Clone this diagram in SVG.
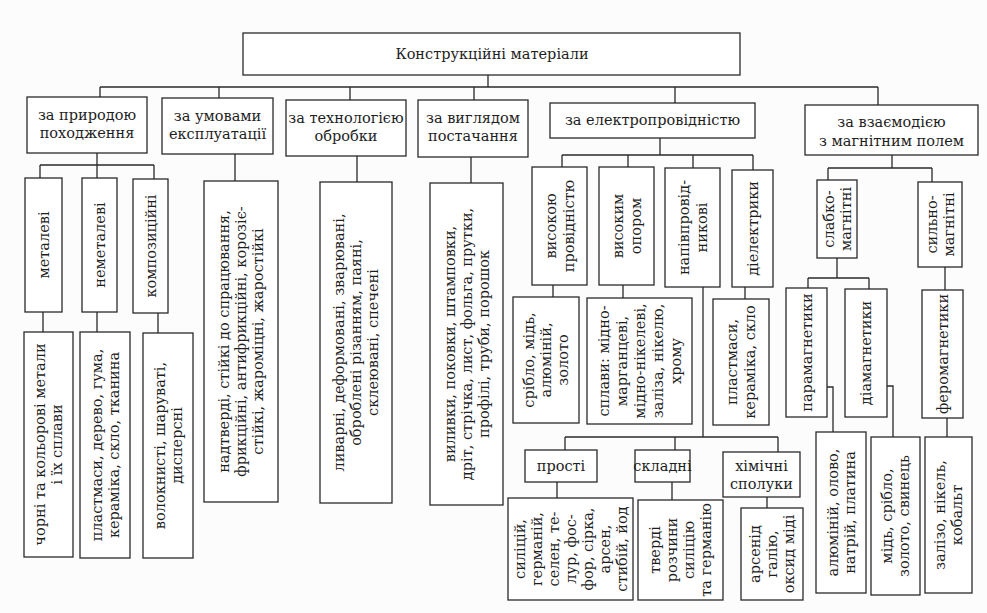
<svg xmlns="http://www.w3.org/2000/svg" width="987" height="613" viewBox="0 0 987 613">
<style>
.b{fill:#fff;stroke:#2a2a2a;stroke-width:1.3}
.c{fill:none;stroke:#2a2a2a;stroke-width:1.3}
.t{font-family:"DejaVu Serif","Liberation Serif",serif;font-size:14.5px;fill:#1e1e1e;text-anchor:middle}
</style>
<rect width="987" height="613" fill="#fcfcfc"/>
<g id="connectors">
<path class="c" d="M488 75V87M100 87H878M100 87V97M219 87V98M350 87V100M474 87V100M675 87V103M878 87V105"/>
<path class="c" d="M97 153V178M40 165H154M40 165V178M154 165V179M43 312V332M97 312V332M158 313V333"/>
<path class="c" d="M235 154V181M357 156V182M471 157V183"/>
<path class="c" d="M660 138V155M562 155H753M562 155V167M628 155V167M693 155V168M753 155V170M553 285V297M623 285V298M745 287V299"/>
<path class="c" d="M703 287V437M565 437H778M565 437V450M675 437V450M778 437V452M557 482V498M672 482V500M767 497V508"/>
<path class="c" d="M892 155V168M828 168H932M828 168V180M932 168V182M837 258V278M808 278H869M808 278V288M869 278V289M945 267V290M827 387H833V432M887 386H893V437M947 418V437"/>
</g>
<g id="root"><rect class="b" x="243" y="33" width="497" height="42"/><text class="t" x="492" y="59">Конструкційні матеріали</text></g>
<g id="n-pryroda"><rect class="b" x="27" y="97" width="120" height="56"/><text class="t"><tspan x="87" y="120">за природою</tspan><tspan x="87" y="138">походження</tspan></text></g>
<g id="n-umovy"><rect class="b" x="162" y="98" width="111" height="56"/><text class="t"><tspan x="217.5" y="121">за умовами</tspan><tspan x="217.5" y="139">експлуатації</tspan></text></g>
<g id="n-tekhn"><rect class="b" x="286" y="100" width="120" height="56"/><text class="t"><tspan x="346" y="123">за технологією</tspan><tspan x="346" y="141">обробки</tspan></text></g>
<g id="n-vyglyad"><rect class="b" x="418" y="100" width="110" height="57"/><text class="t"><tspan x="473" y="123">за виглядом</tspan><tspan x="473" y="141">постачання</tspan></text></g>
<g id="n-elektro"><rect class="b" x="550" y="103" width="205" height="35"/><text class="t" x="652.5" y="125">за електропровідністю</text></g>
<g id="n-magnit"><rect class="b" x="805" y="105" width="173" height="50"/><text class="t"><tspan x="891.5" y="127">за взаємодією</tspan><tspan x="891.5" y="146">з магнітним полем</tspan></text></g>

<g id="n-metal"><rect class="b" x="25" y="178" width="37" height="134"/><text class="t" transform="translate(43.5 245) rotate(-90)"><tspan x="0" y="5.2">металеві</tspan></text></g>
<g id="n-nemetal"><rect class="b" x="82" y="178" width="35" height="134"/><text class="t" transform="translate(99.5 245) rotate(-90)"><tspan x="0" y="5.2">неметалеві</tspan></text></g>
<g id="n-kompoz"><rect class="b" x="133" y="179" width="35" height="134"/><text class="t" transform="translate(150.5 246) rotate(-90)"><tspan x="0" y="5.2">композиційні</tspan></text></g>
<g id="l-metal"><rect class="b" x="24" y="332" width="49" height="225"/><text class="t" transform="translate(48.5 444.5) rotate(-90)"><tspan x="0" y="-3.3">чорні та кольорові метали</tspan><tspan x="0" y="13.7">і їх сплави</tspan></text></g>
<g id="l-nemetal"><rect class="b" x="80" y="332" width="50" height="226"/><text class="t" transform="translate(105 445) rotate(-90)"><tspan x="0" y="-3.3">пластмаси, дерево, гума,</tspan><tspan x="0" y="13.7">кераміка, скло, тканина</tspan></text></g>
<g id="l-kompoz"><rect class="b" x="143" y="333" width="50" height="225"/><text class="t" transform="translate(168 445.5) rotate(-90)"><tspan x="0" y="-3.3">волокнисті, шаруваті,</tspan><tspan x="0" y="13.7">дисперсні</tspan></text></g>

<g id="l-umovy"><rect class="b" x="204" y="181" width="74" height="321"/><text class="t" transform="translate(241 341.5) rotate(-90)"><tspan x="0" y="-11.8">надтверді, стійкі до спрацювання,</tspan><tspan x="0" y="5.2">фрикційні, антифрикційні, корозіє-</tspan><tspan x="0" y="22.2">стійкі, жароміцні, жаростійкі</tspan></text></g>
<g id="l-tekhn"><rect class="b" x="320" y="182" width="72" height="321"/><text class="t" transform="translate(356 342.5) rotate(-90)"><tspan x="0" y="-11.8">ливарні, деформовані, зварювані,</tspan><tspan x="0" y="5.2">оброблені різанням, паяні,</tspan><tspan x="0" y="22.2">склеювані, спечені</tspan></text></g>
<g id="l-vyglyad"><rect class="b" x="430" y="183" width="73" height="322"/><text class="t" transform="translate(466.5 344) rotate(-90)"><tspan x="0" y="-11.8">виливки, поковки, штамповки,</tspan><tspan x="0" y="5.2">дріт, стрічка, лист, фольга, прутки,</tspan><tspan x="0" y="22.2">профілі, труби, порошок</tspan></text></g>

<g id="n-vys-prov"><rect class="b" x="532" y="167" width="55" height="118"/><text class="t" transform="translate(559.5 226) rotate(-90)"><tspan x="0" y="-3.8">високою</tspan><tspan x="0" y="14.2">провідністю</tspan></text></g>
<g id="n-vys-opir"><rect class="b" x="599" y="167" width="55" height="118"/><text class="t" transform="translate(626.5 226) rotate(-90)"><tspan x="0" y="-3.8">високим</tspan><tspan x="0" y="14.2">опором</tspan></text></g>
<g id="n-napiv"><rect class="b" x="665" y="168" width="55" height="119"/><text class="t" transform="translate(692.5 227.5) rotate(-90)"><tspan x="0" y="-3.8">напівпровід-</tspan><tspan x="0" y="14.2">никові</tspan></text></g>
<g id="n-diel"><rect class="b" x="732" y="170" width="41" height="117"/><text class="t" transform="translate(752.5 228.5) rotate(-90)"><tspan x="0" y="5.2">діелектрики</tspan></text></g>
<g id="l-vys-prov"><rect class="b" x="513" y="297" width="66" height="126"/><text class="t" transform="translate(546 360) rotate(-90)"><tspan x="0" y="-11.8">срібло, мідь,</tspan><tspan x="0" y="5.2">алюміній,</tspan><tspan x="0" y="22.2">золото</tspan></text></g>
<g id="l-vys-opir"><rect class="b" x="587" y="298" width="105" height="126"/><text class="t" transform="translate(639.5 361) rotate(-90)"><tspan x="0" y="-30.8">сплави: мідно-</tspan><tspan x="0" y="-12.8">марганцеві,</tspan><tspan x="0" y="5.2">мідно-нікелеві,</tspan><tspan x="0" y="23.2">заліза, нікелю,</tspan><tspan x="0" y="41.2">хрому</tspan></text></g>
<g id="l-diel"><rect class="b" x="713" y="299" width="56" height="126"/><text class="t" transform="translate(741 362) rotate(-90)"><tspan x="0" y="-3.8">пластмаси,</tspan><tspan x="0" y="14.2">кераміка, скло</tspan></text></g>

<g id="n-prosti"><rect class="b" x="525" y="450" width="72" height="32"/><text class="t" x="561" y="471">прості</text></g>
<g id="n-skladni"><rect class="b" x="635" y="450" width="55" height="32"/><text class="t" x="662.5" y="471">складні</text></g>
<g id="n-khim"><rect class="b" x="723" y="452" width="77" height="45"/><text class="t"><tspan x="761.5" y="471">хімічні</tspan><tspan x="761.5" y="489">сполуки</tspan></text></g>
<g id="l-prosti"><rect class="b" x="508" y="498" width="125" height="102"/><text class="t" transform="translate(570.5 549) rotate(-90)"><tspan x="0" y="-45.8">силіцій,</tspan><tspan x="0" y="-28.8">германій,</tspan><tspan x="0" y="-11.8">селен, те-</tspan><tspan x="0" y="5.2">лур, фос-</tspan><tspan x="0" y="22.2">фор, сірка,</tspan><tspan x="0" y="39.2">арсен,</tspan><tspan x="0" y="56.2">стибій, йод</tspan></text></g>
<g id="l-skladni"><rect class="b" x="638" y="500" width="85" height="100"/><text class="t" transform="translate(680.5 550) rotate(-90)"><tspan x="0" y="-20.3">тверді</tspan><tspan x="0" y="-3.3">розчини</tspan><tspan x="0" y="13.7">силіцію</tspan><tspan x="0" y="30.7">та германію</tspan></text></g>
<g id="l-khim"><rect class="b" x="741" y="508" width="62" height="92"/><text class="t" transform="translate(772 554) rotate(-90)"><tspan x="0" y="-11.8">арсенід</tspan><tspan x="0" y="5.2">галію,</tspan><tspan x="0" y="22.2">оксид міді</tspan></text></g>

<g id="n-slabko"><rect class="b" x="817" y="180" width="40" height="78"/><text class="t" transform="translate(837 219) rotate(-90)"><tspan x="0" y="-3.3">слабко-</tspan><tspan x="0" y="13.7">магнітні</tspan></text></g>
<g id="n-sylno"><rect class="b" x="918" y="182" width="44" height="85"/><text class="t" transform="translate(940 224.5) rotate(-90)"><tspan x="0" y="-3.3">сильно-</tspan><tspan x="0" y="13.7">магнітні</tspan></text></g>
<g id="n-para"><rect class="b" x="786" y="288" width="41" height="129"/><text class="t" transform="translate(806.5 352.5) rotate(-90)"><tspan x="0" y="5.2">парамагнетики</tspan></text></g>
<g id="n-dia"><rect class="b" x="845" y="289" width="42" height="128"/><text class="t" transform="translate(866 353) rotate(-90)"><tspan x="0" y="5.2">діамагнетики</tspan></text></g>
<g id="n-fero"><rect class="b" x="922" y="290" width="41" height="128"/><text class="t" transform="translate(942.5 354) rotate(-90)"><tspan x="0" y="5.2">феромагнетики</tspan></text></g>
<g id="l-para"><rect class="b" x="816" y="432" width="50" height="161"/><text class="t" transform="translate(841 512.5) rotate(-90)"><tspan x="0" y="-3.3">алюміній, олово,</tspan><tspan x="0" y="13.7">натрій, платина</tspan></text></g>
<g id="l-dia"><rect class="b" x="871" y="437" width="49" height="158"/><text class="t" transform="translate(895.5 516) rotate(-90)"><tspan x="0" y="-3.3">мідь, срібло,</tspan><tspan x="0" y="13.7">золото, свинець</tspan></text></g>
<g id="l-fero"><rect class="b" x="925" y="437" width="47" height="156"/><text class="t" transform="translate(948.5 515) rotate(-90)"><tspan x="0" y="-3.3">залізо, нікель,</tspan><tspan x="0" y="13.7">кобальт</tspan></text></g>
</svg>
